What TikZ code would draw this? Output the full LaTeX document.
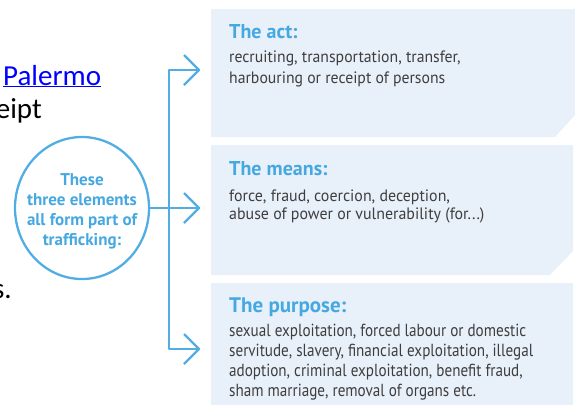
\documentclass[tikz,border=0pt]{standalone}
\usepackage{fontspec}
\setmainfont{PT Sans}
\newfontfamily\boxfont{PT Sans}
\newfontfamily\bodyfontA{PT Sans}[FakeStretch=0.955]
\newfontfamily\bodyfontB{PT Sans}[FakeStretch=0.965]
\newfontfamily\bodyfontC{PT Sans}[FakeStretch=0.865]
\newfontfamily\bgfont{Carlito}
\usetikzlibrary{shapes.geometric}
\definecolor{lineblue}{RGB}{82,174,226}
\definecolor{boxfill}{RGB}{232,240,250}
\definecolor{titleblue}{RGB}{70,168,224}
\definecolor{bodygray}{RGB}{62,62,62}
\definecolor{linkblue}{RGB}{0,0,255}
\tikzset{
  conn/.style={draw=lineblue, line width=2.3pt, line join=round},
  boxbg/.style={fill=boxfill},
  ttl/.style={inner sep=0, text=titleblue, font=\boxfont\bfseries\fontsize{20}{22}\selectfont, anchor=base west},
  bodytxt/.style={inner sep=0, text=bodygray, align=left, anchor=base west},
  bgtxt/.style={inner sep=0, font=\bgfont\fontsize{29}{34}\selectfont},
}
\begin{document}
\begin{tikzpicture}[x=1pt,y=-1pt]
\useasboundingbox (0,0) rectangle (575,405);
% background text fragments
\node[bgtxt, text=linkblue, anchor=base west] (pal) at (3,85) {\underline{Palermo}};
\node[bgtxt, anchor=base east] (eipt) at (42,118) {eipt};
\node[bgtxt, anchor=base east] (sdot) at (12,298) {s.};
% boxes
\fill[boxbg] (211,9) -- (575,9) -- (575,115) -- (555,137) -- (211,137) -- cycle;
\fill[boxbg] (211,145) -- (573,145) -- (573,251) -- (550,275) -- (211,275) -- cycle;
\fill[boxbg] (211,283) -- (573,283) -- (573,405) -- (211,405) -- cycle;
% circle
\node[ellipse, draw=lineblue, line width=2.3pt, minimum width=134pt, minimum height=142pt, inner sep=0] (c) at (82,208) {};
\node[inner sep=0, text=titleblue, align=center, anchor=base,
      font=\boxfont\bfseries\fontsize{17}{19.8}\selectfont] (ctext) at (82,245)
      {These\\three elements\\all form part of\\trafficking:};
% titles and texts (multi-line nodes: base = last line)
\node[ttl] (t1) at (229,38.3) {The act:};
\node[bodytxt, font=\bodyfontA\fontsize{16.5}{20.5}\selectfont] (b1) at (229,83.3)
  {recruiting, transportation, transfer,\\harbouring or receipt of persons};
\node[ttl] (t2) at (229,175.7) {The means:};
\node[bodytxt, font=\bodyfontB\fontsize{16.5}{18.5}\selectfont] (b2) at (229,219.5)
  {force, fraud, coercion, deception,\\abuse of power or vulnerability (for...)};
\node[ttl, font=\boxfont\bfseries\fontsize{21}{23}\selectfont] (t3) at (229,312.7) {The purpose:};
\node[bodytxt, font=\bodyfontC\fontsize{17.5}{19.8}\selectfont] (b3) at (229,396)
  {sexual exploitation, forced labour or domestic\\servitude, slavery, financial exploitation, illegal\\adoption, criminal exploitation, benefit fraud,\\sham marriage, removal of organs etc.};
% connectors
\coordinate (a1) at (199,70);
\coordinate (a2) at (199,208);
\coordinate (a3) at (199,349);
\coordinate (j1) at (169,70);
\coordinate (j3) at (169,349);
\draw[conn] (c.east) -- (a2);
\draw[conn] (a1) -- (j1) -- (j3) -- (a3);
\draw[conn] (a1) ++(-15,-15) -- (a1) -- ++(-15,15);
\draw[conn] (a2) ++(-15,-15) -- (a2) -- ++(-15,15);
\draw[conn] (a3) ++(-15,-15) -- (a3) -- ++(-15,15);
\end{tikzpicture}
\end{document}
